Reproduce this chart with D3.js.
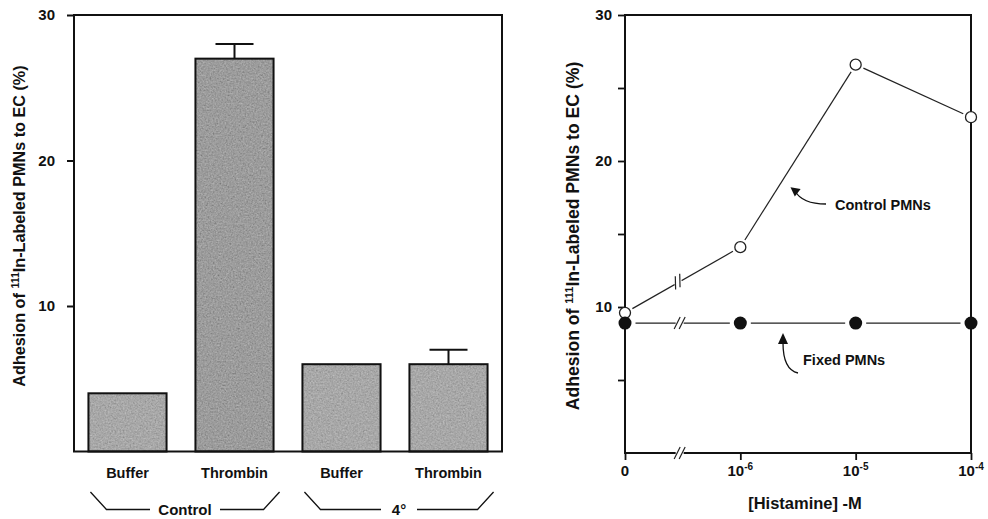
<!DOCTYPE html>
<html>
<head>
<meta charset="utf-8">
<script src="https://cdn.jsdelivr.net/npm/d3@7"></script>
<style>
  body { margin: 0; background: #fff; }
  svg text { font-family: "Liberation Sans", Arial, sans-serif; font-weight: bold; fill: #111; }
</style>
</head>
<body>
<div id="chart"></div>
<script>
// left panel: bar chart
const barIds = ["cb", "ct", "fb", "ft"];
const barLabels = ["Buffer", "Thrombin", "Buffer", "Thrombin"];
const barGroups = ["Control", "Control", "4°", "4°"];
const barValues = [4, 27, 6, 6];
const barErrors = [0, 1, 0, 1];
const yTicksLeft = [10, 20, 30];

// right panel: dose response
const doseLabels = ["0", "-6", "-5", "-4"];
const controlPMN = [9.6, 14.1, 26.6, 23.0];
const fixedPMN = [8.9, 8.9, 8.9, 8.9];
const yTicksRight = [5, 10, 15, 20, 25, 30];
const yLabelsRight = [10, 20, 30];

const W = 988, H = 519;
const svg = d3.select("#chart").append("svg").attr("width", W).attr("height", H);

const ink = "#111";

// stippled grey for the bars
const defs = svg.append("defs");
const grain = defs.append("filter").attr("id", "grain")
  .attr("x", 0).attr("y", 0).attr("width", 1).attr("height", 1);
grain.append("feTurbulence").attr("type", "fractalNoise").attr("baseFrequency", 0.6)
  .attr("numOctaves", 2).attr("seed", 4).attr("result", "noise");
grain.append("feColorMatrix").attr("in", "noise").attr("type", "matrix")
  .attr("values", "0.33 0.33 0.33 0 0  0.33 0.33 0.33 0 0  0.33 0.33 0.33 0 0  0 0 0 0 1")
  .attr("result", "gray");
grain.append("feComposite").attr("in", "SourceGraphic").attr("in2", "gray")
  .attr("operator", "arithmetic").attr("k1", 0).attr("k2", 1).attr("k3", 0.5).attr("k4", -0.25);

// ---------- left ----------
const L = {x0: 74, x1: 502, y0: 15, y1: 451.5};
const xb = d3.scaleBand().domain(barIds).range([L.x0, L.x1]).paddingInner(0.27).paddingOuter(0.135);
const yl = d3.scaleLinear().domain([0, 30]).range([L.y1, L.y0]);

const left = svg.append("g");

left.selectAll("rect.bar")
  .data(barValues)
  .join("rect")
  .attr("class", "bar")
  .attr("x", (d, i) => xb(barIds[i]))
  .attr("y", d => yl(d))
  .attr("width", xb.bandwidth())
  .attr("height", d => yl(0) - yl(d))
  .attr("fill", (d, i) => i === 1 ? "#9c9c9c" : "#a8a8a8")
  .attr("filter", "url(#grain)");

left.selectAll("rect.edge")
  .data(barValues)
  .join("rect")
  .attr("class", "edge")
  .attr("x", (d, i) => xb(barIds[i]))
  .attr("y", d => yl(d))
  .attr("width", xb.bandwidth())
  .attr("height", d => yl(0) - yl(d))
  .attr("fill", "none")
  .attr("stroke", ink)
  .attr("stroke-width", 2);

// error bars
barValues.forEach((v, i) => {
  if (!barErrors[i]) return;
  const cx = xb(barIds[i]) + xb.bandwidth() / 2;
  left.append("line")
    .attr("x1", cx).attr("x2", cx)
    .attr("y1", yl(v)).attr("y2", yl(v + barErrors[i]))
    .attr("stroke", ink).attr("stroke-width", 2);
  left.append("line")
    .attr("x1", cx - 19).attr("x2", cx + 19)
    .attr("y1", yl(v + barErrors[i])).attr("y2", yl(v + barErrors[i]))
    .attr("stroke", ink).attr("stroke-width", 2);
});

// frame
left.append("rect")
  .attr("x", L.x0).attr("y", L.y0)
  .attr("width", L.x1 - L.x0).attr("height", L.y1 - L.y0)
  .attr("fill", "none").attr("stroke", ink).attr("stroke-width", 2);

const yAxisL = left.append("g")
  .attr("transform", `translate(${L.x0},0)`)
  .call(d3.axisLeft(yl).tickValues(yTicksLeft).tickSize(7).tickPadding(12));
yAxisL.select(".domain").remove();
yAxisL.selectAll("line").attr("stroke", ink).attr("stroke-width", 2);
yAxisL.selectAll("text").style("font-size", "15px").attr("fill", ink);

// category labels
left.selectAll("text.cat")
  .data(barLabels)
  .join("text")
  .attr("class", "cat")
  .attr("x", (d, i) => xb(barIds[i]) + xb.bandwidth() / 2)
  .attr("y", 478)
  .attr("text-anchor", "middle")
  .style("font-size", "14.5px")
  .text(d => d);

// group brackets
const groups = Array.from(new Set(barGroups));
groups.forEach(g => {
  const idx = barIds.filter((d, i) => barGroups[i] === g);
  const a = xb(idx[0]) + 2;
  const b = xb(idx[idx.length - 1]) + xb.bandwidth() + 6;
  const mid = (a + b) / 2;
  const yTop = 492, yBot = 509.5;
  const halfGap = g === "Control" ? 35 : 18;
  left.append("path")
    .attr("d", `M${a},${yTop}L${a + 16},${yBot}L${mid - halfGap},${yBot}`)
    .attr("fill", "none").attr("stroke", ink).attr("stroke-width", 1.3);
  left.append("path")
    .attr("d", `M${mid + halfGap},${yBot}L${b - 16},${yBot}L${b},${yTop}`)
    .attr("fill", "none").attr("stroke", ink).attr("stroke-width", 1.3);
  left.append("text")
    .attr("x", mid).attr("y", yBot + 5)
    .attr("text-anchor", "middle")
    .style("font-size", "15px")
    .text(g);
});

// y label left
const ylabL = left.append("text")
  .attr("transform", "translate(25,226) rotate(-90)")
  .attr("text-anchor", "middle")
  .style("font-size", "16.2px");
ylabL.append("tspan").text("Adhesion of ");
ylabL.append("tspan").attr("baseline-shift", "super").style("font-size", "10.5px").text("111");
ylabL.append("tspan").text("In-Labeled PMNs to EC (%)");

// ---------- right ----------
const R = {x0: 625, x1: 971, y0: 15, y1: 453};
const xr = d3.scalePoint().domain(doseLabels).range([R.x0, R.x1]);
const yr = d3.scaleLinear().domain([0, 30]).range([R.y1, R.y0]);

const right = svg.append("g");

right.append("rect")
  .attr("x", R.x0).attr("y", R.y0)
  .attr("width", R.x1 - R.x0).attr("height", R.y1 - R.y0)
  .attr("fill", "none").attr("stroke", ink).attr("stroke-width", 2);

const yAxisR = right.append("g")
  .attr("transform", `translate(${R.x0},0)`)
  .call(d3.axisLeft(yr).tickValues(yTicksRight).tickSize(7).tickPadding(6)
    .tickFormat(d => yLabelsRight.includes(d) ? d : ""));
yAxisR.select(".domain").remove();
yAxisR.selectAll("line").attr("stroke", ink).attr("stroke-width", 1.8);
yAxisR.selectAll("text").style("font-size", "15px").attr("fill", ink);

const xAxisR = right.append("g")
  .attr("transform", `translate(0,${R.y1})`)
  .call(d3.axisBottom(xr).tickSize(7).tickPadding(6).tickFormat(""));
xAxisR.select(".domain").remove();
xAxisR.selectAll("line").attr("stroke", ink).attr("stroke-width", 1.8);

// x tick labels with superscript exponents
doseLabels.forEach(d => {
  const t = right.append("text")
    .attr("x", xr(d)).attr("y", 476)
    .attr("text-anchor", "middle")
    .style("font-size", "15px");
  if (d === "0") { t.text("0"); return; }
  t.append("tspan").text("10");
  t.append("tspan").attr("dy", -6).style("font-size", "10px").text(d);
});

right.append("text")
  .attr("x", 805).attr("y", 509)
  .attr("text-anchor", "middle")
  .style("font-size", "16.5px")
  .text("[Histamine] -M");

const ylabR = right.append("text")
  .attr("transform", "translate(579,236) rotate(-90)")
  .attr("text-anchor", "middle")
  .style("font-size", "17.6px");
ylabR.append("tspan").text("Adhesion of ");
ylabR.append("tspan").attr("baseline-shift", "super").style("font-size", "11px").text("111");
ylabR.append("tspan").text("In-Labeled PMNs to EC (%)");

// connecting segments that stop short of the markers
function segments(vals, rad, gap) {
  const pts = vals.map((v, i) => [xr(doseLabels[i]), yr(v)]);
  const out = [];
  for (let i = 0; i < pts.length - 1; i++) {
    const [ax, ay] = pts[i], [bx, by] = pts[i + 1];
    const len = Math.hypot(bx - ax, by - ay);
    const ux = (bx - ax) / len, uy = (by - ay) / len;
    const s = rad + gap;
    out.push([ax + ux * s, ay + uy * s, bx - ux * s, by - uy * s]);
  }
  return out;
}

function drawSeries(vals, rad, gap) {
  right.append("g").selectAll("line")
    .data(segments(vals, rad, gap))
    .join("line")
    .attr("x1", d => d[0]).attr("y1", d => d[1])
    .attr("x2", d => d[2]).attr("y2", d => d[3])
    .attr("stroke", "#222").attr("stroke-width", 1.2);
}

drawSeries(controlPMN, 5.5, 3);
drawSeries(fixedPMN, 6.5, 4);

right.append("g").selectAll("circle")
  .data(controlPMN)
  .join("circle")
  .attr("cx", (d, i) => xr(doseLabels[i]))
  .attr("cy", d => yr(d))
  .attr("r", 5.5)
  .attr("fill", "#fff").attr("stroke", "#222").attr("stroke-width", 1.3);

right.append("g").selectAll("circle")
  .data(fixedPMN)
  .join("circle")
  .attr("cx", (d, i) => xr(doseLabels[i]))
  .attr("cy", d => yr(d))
  .attr("r", 6.5)
  .attr("fill", ink);

// axis break marks "//"
function breakMark(x, y, angle) {
  const g = right.append("g").attr("transform", `translate(${x},${y}) rotate(${angle})`);
  g.append("rect").attr("x", -4).attr("y", -3).attr("width", 8).attr("height", 6).attr("fill", "#fff");
  [-2.5, 2.5].forEach(o => {
    g.append("line")
      .attr("x1", o - 3).attr("y1", 6).attr("x2", o + 3).attr("y2", -6)
      .attr("stroke", "#222").attr("stroke-width", 1.2);
  });
}
const bx = (xr("0") + xr("-6")) / 2 - 3;
breakMark(bx, R.y1, 0);
breakMark(bx, yr(fixedPMN[0]), 0);
const by = yr(controlPMN[0]) + (yr(controlPMN[1]) - yr(controlPMN[0])) * (bx - xr("0")) / (xr("-6") - xr("0"));
breakMark(bx - 2, by, -28);

// annotations with curved arrows
right.append("text").attr("x", 835).attr("y", 210).style("font-size", "14.5px").text("Control PMNs");
right.append("path")
  .attr("d", "M826,204 C812,204 800,200 795,191")
  .attr("fill", "none").attr("stroke", ink).attr("stroke-width", 1.3);
right.append("path")
  .attr("d", "M792,186 L801,191 L793,196 Z")
  .attr("fill", ink)
  .attr("transform", "rotate(-20,795,191)");

right.append("text").attr("x", 803).attr("y", 365).style("font-size", "14.5px").text("Fixed PMNs");
right.append("path")
  .attr("d", "M798,373 C789,371 783,363 783,343")
  .attr("fill", "none").attr("stroke", ink).attr("stroke-width", 1.3);
right.append("path")
  .attr("d", "M783,333 L778,344 L788,344 Z")
  .attr("fill", ink);
</script>
</body>
</html>
